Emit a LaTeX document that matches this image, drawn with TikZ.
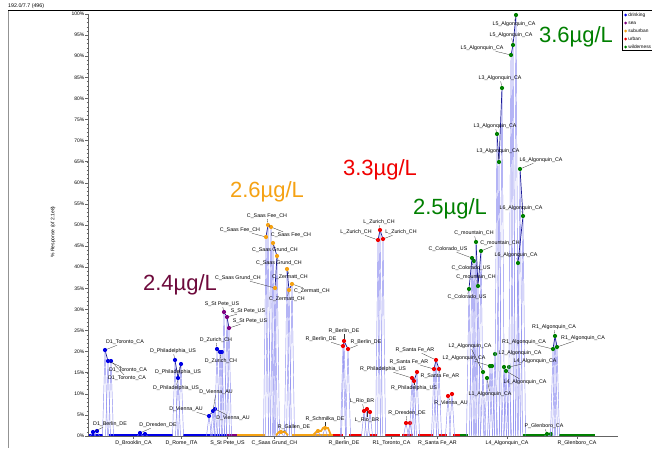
\documentclass[tikz,border=0pt]{standalone}
\usepackage{fontspec}
\setmainfont{Liberation Sans}
\usepackage{tikz}
\usetikzlibrary{calc}
\definecolor{drinkc}{RGB}{0,0,230}
\definecolor{seac}{RGB}{128,0,128}
\definecolor{suburbc}{RGB}{245,162,20}
\definecolor{urbanc}{RGB}{240,0,0}
\definecolor{wildc}{RGB}{0,128,0}
\definecolor{tracec}{RGB}{140,140,240}
\definecolor{joinc}{RGB}{25,25,150}
\definecolor{maroonc}{RGB}{110,10,60}
\definecolor{gridc}{RGB}{100,100,100}
\tikzstyle{trace} = [draw=tracec, line width=0.45pt, line join=round]
\tikzstyle{repline} = [draw=joinc, line width=0.7pt]
\tikzstyle{marker} = [circle, inner sep=0pt, minimum size=4.2pt, draw=none]
\tikzstyle{samplelabel} = [font=\fontsize{5.3}{6}\selectfont, inner sep=0.6pt]
\tikzstyle{legendlabel} = [font=\fontsize{4.8}{6}\selectfont, inner sep=0.4pt, anchor=west]
\tikzstyle{leader} = [draw=black!80, line width=0.3pt]
\tikzstyle{conc} = [font=\fontsize{22}{24}\selectfont, inner sep=0pt]
\tikzstyle{ticklabel} = [font=\fontsize{5}{6}\selectfont, anchor=east, inner sep=0pt]
\tikzstyle{axis} = [draw=gridc, line width=0.5pt]
\tikzstyle{flat} = [line width=1.8pt]
% one replicate: peak line and its dot
\newcommand{\peakat}[3]{%
  \coordinate (#1p) at (#2);
  \draw[trace] ($(#1p |- base)+(-2.5,0)$) -- (#1p) -- ($(#1p |- base)+(2.5,0)$);
  \node[marker, fill=#3] (#1) at (#1p) {};}
% sample name with its leader
\newcommand{\taglabel}[3]{%
  \node[samplelabel] (#1t) at (#2) {#3};
  \draw[leader] (#1t) -- (#1);}

\begin{document}
\begin{tikzpicture}[x=1pt, y=-1pt]
    \clip (0,0) rectangle (652,448);
    \fill[white] (0,0) rectangle (652,448);
    % Frame and axes
    \draw[gridc!70, line width=0.8pt] (8,10) -- (8,448);
    \draw[black, line width=1pt] (8,10) -- (652,10);
    \node[samplelabel, anchor=west, inner sep=0pt] (runinfo) at (8,6) {192.0/7.7 (496)};
    \coordinate (base) at (0,436);
    \draw[axis] (88,14) -- (88,436);
    \foreach \p in {1,...,99}
        \draw[axis, line width=0.3pt] (86.5,{436-4.22*\p}) -- (88,{436-4.22*\p});
    \foreach \p in {0,5,...,100} {
        \draw[axis] (85,{436-4.22*\p}) -- (88,{436-4.22*\p});
        \node[ticklabel] (yt\p) at (84.5,{436-4.22*\p}) {\p\%};
    }
    \node[rotate=90, font=\fontsize{5}{6}\selectfont] (ylabel) at (53,232) {\% Response (of 2.1e8)};
    \draw[axis] (88,436) -- (618,436);
    \foreach \x in {133,181,227,274,344,391,437,507,577}
        \draw[axis] (\x,436) -- (\x,439);
    \node[samplelabel] (xt1) at (133.5,443) {D\_Brooklin\_CA};
    \node[samplelabel] (xt2) at (181.5,443) {D\_Rome\_ITA};
    \node[samplelabel] (xt3) at (227.5,443) {S\_St Pete\_US};
    \node[samplelabel] (xt4) at (274.5,443) {C\_Saas Grund\_CH};
    \node[samplelabel] (xt5) at (344,443) {R\_Berlin\_DE};
    \node[samplelabel] (xt6) at (391.5,443) {R1\_Toronto\_CA};
    \node[samplelabel] (xt7) at (437.5,443) {R\_Santa Fe\_AR};
    \node[samplelabel] (xt8) at (507,443) {L4\_Algonquin\_CA};
    \node[samplelabel] (xt9) at (577,443) {R\_Glenboro\_CA};
    % Baseline runs
    \foreach \a/\b in {89/103, 109/173, 183/227}
        \draw[flat, drinkc] (\a,435.3) -- (\b,435.3);
    \draw[flat, seac] (227,435.3) -- (237,435.3);
    \foreach \a/\b in {237/265, 292/333}
        \draw[flat, suburbc] (\a,435.3) -- (\b,435.3);
    \foreach \a/\b in {333/343, 349/362, 370/377, 385/400, 402/413, 418/433, 439/447, 453/460}
        \draw[flat, urbanc] (\a,435.3) -- (\b,435.3);
    \foreach \a/\b in {460/468, 523/547, 559/595}
        \draw[flat, wildc] (\a,435.3) -- (\b,435.3);
    % Peaks: drinking
    \peakat{dA1}{93,432}{drinkc}
    \peakat{dA2}{97,431}{drinkc}
    \peakat{dB1}{105,350}{drinkc}
    \peakat{dB2}{108,361}{drinkc}
    \peakat{dB3}{111,361}{drinkc}
    \peakat{dC1}{140,433}{drinkc}
    \peakat{dC2}{145,434}{drinkc}
    \peakat{dD1}{175,360}{drinkc}
    \peakat{dD2}{178,378}{drinkc}
    \peakat{dD3}{181,364}{drinkc}
    \peakat{dE1}{209,416}{drinkc}
    \peakat{dE2}{213,411}{drinkc}
    \peakat{dE3}{215,409}{drinkc}
    \peakat{dF1}{217,349}{drinkc}
    \peakat{dF2}{220,352}{drinkc}
    \peakat{dF3}{222,352}{drinkc}
    % Peaks: sea
    \peakat{sA1}{224,312}{seac}
    \peakat{sA2}{227,317}{seac}
    \peakat{sA3}{229,328}{seac}
    % Peaks: suburban
    \peakat{cA1}{268,225}{suburbc}
    \peakat{cA2}{271,227}{suburbc}
    \peakat{cA3}{266,237}{suburbc}
    \peakat{cB1}{273,243}{suburbc}
    \peakat{cB2}{277,256}{suburbc}
    \peakat{cB3}{275,288}{suburbc}
    \peakat{cC1}{287,269}{suburbc}
    \peakat{cC2}{292,284}{suburbc}
    \peakat{cC3}{289,290}{suburbc}
    \draw[flat, suburbc] (276,435.3) -- (279,432) -- (285,432) -- (288,435.3);
    \peakat{cD1}{281,432}{suburbc}
    \draw[flat, suburbc] (313,435.3) -- (317,431) -- (321,431) -- (323,428) -- (328,428) -- (331,435.3);
    \peakat{cE1}{318,431}{suburbc}
    \peakat{cE2}{325,428}{suburbc}
    % Peaks: urban
    \peakat{rA1}{344,341}{urbanc}
    \peakat{rA2}{343,346}{urbanc}
    \peakat{rA3}{348,349}{urbanc}
    \peakat{rB1}{364,411}{urbanc}
    \peakat{rB2}{367,409}{urbanc}
    \peakat{rB3}{370,412}{urbanc}
    \peakat{rC1}{380,230}{urbanc}
    \peakat{rC2}{378,240}{urbanc}
    \peakat{rC3}{383,239}{urbanc}
    \peakat{rD1}{406,423}{urbanc}
    \peakat{rD2}{410,423}{urbanc}
    \peakat{rE1}{412,378}{urbanc}
    \peakat{rE2}{414,381}{urbanc}
    \peakat{rE3}{417,372}{urbanc}
    \peakat{rF1}{436,360}{urbanc}
    \peakat{rF2}{434,369}{urbanc}
    \peakat{rF3}{439,369}{urbanc}
    \peakat{rG1}{448,396}{urbanc}
    \peakat{rG2}{452,394}{urbanc}
    % Peaks: wilderness
    \peakat{gA1}{469,289}{wildc}
    \peakat{gA2}{472,258}{wildc}
    \peakat{gA3}{474,261}{wildc}
    \peakat{gB1}{476,242}{wildc}
    \peakat{gB2}{481,251}{wildc}
    \peakat{gB3}{478,286}{wildc}
    \peakat{gC1}{483,372}{wildc}
    \peakat{gC2}{487,378}{wildc}
    \peakat{gC3}{490,366}{wildc}
    \peakat{gC4}{492,366}{wildc}
    \peakat{gC5}{495,354}{wildc}
    \peakat{gD1}{502,88}{wildc}
    \peakat{gD2}{497,134}{wildc}
    \peakat{gD3}{499,162}{wildc}
    \peakat{gE1}{504,367}{wildc}
    \peakat{gE2}{506,371}{wildc}
    \peakat{gE3}{509,367}{wildc}
    \peakat{gF1}{516,15}{wildc}
    \peakat{gF2}{513,45}{wildc}
    \peakat{gF3}{511,55}{wildc}
    \peakat{gG1}{520,169}{wildc}
    \peakat{gG2}{523,216}{wildc}
    \peakat{gG3}{518,263}{wildc}
    \peakat{gH1}{547,434}{wildc}
    \peakat{gH2}{551,434}{wildc}
    \peakat{gI1}{555,336}{wildc}
    \peakat{gI2}{553,349}{wildc}
    \peakat{gI3}{557,347}{wildc}
    % Replicates of one sample
    \draw[repline] (dB1) -- (dB2) -- (dB3);
    \draw[repline] (dD1) -- (dD2) -- (dD3);
    \draw[repline] (dE1) -- (dE2) -- (dE3);
    \draw[repline] (dF1) -- (dF2) -- (dF3);
    \draw[repline] (sA1) -- (sA2) -- (sA3);
    \draw[repline] (cA3) -- (cA1) -- (cA2);
    \draw[repline] (cB1) -- (cB2) -- (cB3);
    \draw[repline] (cC1) -- (cC3) -- (cC2);
    \draw[repline] (rA2) -- (rA1) -- (rA3);
    \draw[repline] (rC2) -- (rC1) -- (rC3);
    \draw[repline] (rE1) -- (rE2) -- (rE3);
    \draw[repline] (rF2) -- (rF1) -- (rF3);
    \draw[repline] (gA1) -- (gA2) -- (gA3);
    \draw[repline] (gB1) -- (gB3) -- (gB2);
    \draw[repline] (gD2) -- (gD3) -- (gD1);
    \draw[repline] (gF3) -- (gF2) -- (gF1);
    \draw[repline] (gG1) -- (gG2) -- (gG3);
    \draw[repline] (gI2) -- (gI1) -- (gI3);
    % Sample names
    \taglabel{dA1}{110,424}{D1\_Berlin\_DE}
    \taglabel{dB1}{125,342}{D1\_Toronto\_CA}
    \taglabel{dB2}{128,370}{D1\_Toronto\_CA}
    \taglabel{dB3}{127,378}{D1\_Toronto\_CA}
    \taglabel{dC1}{158,425}{D\_Dresden\_DE}
    \taglabel{dD1}{173,351}{D\_Philadelphia\_US}
    \taglabel{dD3}{178,372}{D\_Philadelphia\_US}
    \taglabel{dD2}{176,388}{D\_Philadelphia\_US}
    \taglabel{dE1}{186,409}{D\_Vienna\_AU}
    \taglabel{dE2}{216,392}{D\_Vienna\_AU}
    \taglabel{dE3}{233,418}{D\_Vienna\_AU}
    \taglabel{dF1}{216,340}{D\_Zurich\_CH}
    \taglabel{dF2}{221,361}{D\_Zurich\_CH}
    \taglabel{sA1}{222,304}{S\_St Pete\_US}
    \taglabel{sA2}{248,311}{S\_St Pete\_US}
    \taglabel{sA3}{250,321}{S\_St Pete\_US}
    \taglabel{cA1}{267,216}{C\_Saas Fee\_CH}
    \taglabel{cA3}{240,230}{C\_Saas Fee\_CH}
    \taglabel{cA2}{291,235}{C\_Saas Fee\_CH}
    \taglabel{cB1}{275,250}{C\_Saas Grund\_CH}
    \taglabel{cB2}{279,263}{C\_Saas Grund\_CH}
    \taglabel{cB3}{238,278}{C\_Saas Grund\_CH}
    \taglabel{cC1}{290,277}{C\_Zermatt\_CH}
    \taglabel{cC2}{312,291}{C\_Zermatt\_CH}
    \taglabel{cC3}{287,299}{C\_Zermatt\_CH}
    \taglabel{cD1}{294,427}{R\_Gallen\_DE}
    \taglabel{cE2}{325,419}{R\_Schmilka\_DE}
    \taglabel{rA1}{344,331}{R\_Berlin\_DE}
    \taglabel{rA2}{321,339}{R\_Berlin\_DE}
    \taglabel{rA3}{366,342}{R\_Berlin\_DE}
    \taglabel{rB1}{362,401}{L\_Rio\_BR}
    \taglabel{rB2}{367,420}{L\_Rio\_BR}
    \taglabel{rC1}{379,222}{L\_Zurich\_CH}
    \taglabel{rC2}{356,232}{L\_Zurich\_CH}
    \taglabel{rC3}{401,232}{L\_Zurich\_CH}
    \taglabel{rD1}{407,413}{R\_Dresden\_DE}
    \taglabel{rE1}{383,369}{R\_Philadelphia\_US}
    \taglabel{rE2}{414,388}{R\_Philadelphia\_US}
    \taglabel{rF1}{415,350}{R\_Santa Fe\_AR}
    \taglabel{rF2}{409,362}{R\_Santa Fe\_AR}
    \taglabel{rF3}{440,376}{R\_Santa Fe\_AR}
    \taglabel{rG1}{451,403}{R\_Vienna\_AU}
    \taglabel{gA2}{448,249}{C\_Colorado\_US}
    \taglabel{gA3}{471,268}{C\_Colorado\_US}
    \taglabel{gA1}{467,297}{C\_Colorado\_US}
    \taglabel{gB1}{474,233}{C\_mountain\_CH}
    \taglabel{gB2}{500,243}{C\_mountain\_CH}
    \taglabel{gB3}{476,277}{C\_mountain\_CH}
    \taglabel{gC1}{470,346}{L2\_Algonquin\_CA}
    \taglabel{gC3}{464,358}{L2\_Algonquin\_CA}
    \taglabel{gC5}{520,353}{L2\_Algonquin\_CA}
    \taglabel{gC2}{490,394}{L1\_Algonquin\_CA}
    \taglabel{gD1}{500,78}{L3\_Algonquin\_CA}
    \taglabel{gD2}{495,126}{L3\_Algonquin\_CA}
    \taglabel{gD3}{498,151}{L3\_Algonquin\_CA}
    \taglabel{gE3}{535,361}{L4\_Algonquin\_CA}
    \taglabel{gE2}{525,382}{L4\_Algonquin\_CA}
    \taglabel{gF1}{514,24}{L5\_Algonquin\_CA}
    \taglabel{gF2}{511,35}{L5\_Algonquin\_CA}
    \taglabel{gF3}{482,48}{L5\_Algonquin\_CA}
    \taglabel{gG1}{541,160}{L6\_Algonquin\_CA}
    \taglabel{gG2}{521,208}{L6\_Algonquin\_CA}
    \taglabel{gG3}{516,255}{L6\_Algonquin\_CA}
    \taglabel{gH1}{544,426}{P\_Glenboro\_CA}
    \taglabel{gI1}{554,327}{R1\_Algonquin\_CA}
    \taglabel{gI2}{524,342}{R1\_Algonquin\_CA}
    \taglabel{gI3}{583,338}{R1\_Algonquin\_CA}
    % Concentrations
    \node[conc, text=maroonc] (conc24) at (180,285) {2.4µg/L};
    \node[conc, text=suburbc] (conc26) at (267,192) {2.6µg/L};
    \node[conc, text=urbanc] (conc33) at (380,170) {3.3µg/L};
    \node[conc, text=wildc] (conc25) at (450,209) {2.5µg/L};
    \node[conc, text=wildc] (conc36) at (576,37) {3.6µg/L};
    % Legend
    \draw[black, line width=0.5pt, fill=white] (622,10) rectangle (662,50);
    \foreach \c/\t [count=\i] in {drinkc/drinking, seac/sea, suburbc/suburban, urbanc/urban, wildc/wilderness} {
        \fill[\c] (625.5,{7+8*\i}) circle (1.5);
        \node[legendlabel] (leg\i) at (627.8,{7+8*\i}) {\t};
    }
\end{tikzpicture}
\end{document}
